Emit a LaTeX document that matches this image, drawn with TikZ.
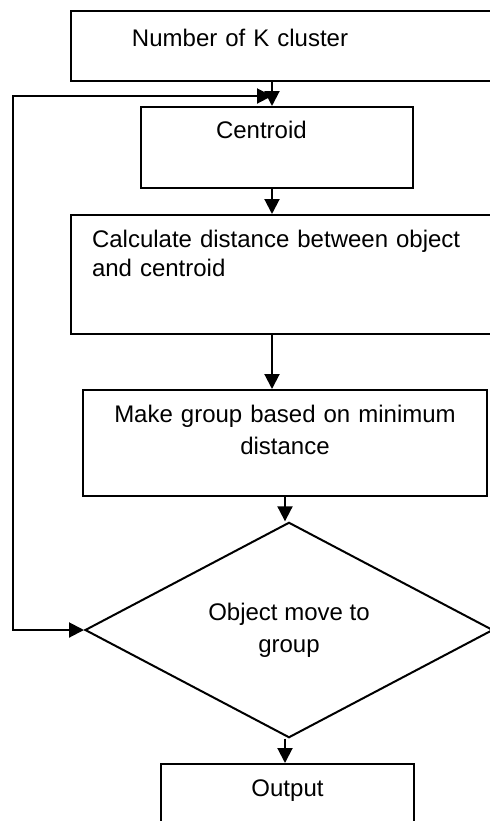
\documentclass[tikz,border=0pt]{standalone}
\usepackage{fontspec}
\setmainfont{Liberation Sans}
\usepackage{tikz}
\usetikzlibrary{arrows.meta,positioning,shapes.geometric}
\tikzset{
  pbox/.style={draw=black,fill=white,line width=1pt,anchor=north west,inner ysep=0pt,font=\fontsize{12}{14.2}\selectfont},
  dbox/.style={diamond,draw=black,fill=white,line width=1pt,inner sep=0pt,align=center,font=\fontsize{12}{15.8}\selectfont},
  arr/.style={-{Triangle[length=7.5pt,width=7.5pt]},line width=1pt},
  darr/.style={{Triangle[length=7.5pt,width=7.5pt]}-{Triangle[length=7.5pt,width=7.5pt]},line width=1pt},
}
\begin{document}
\begin{tikzpicture}[x=0.5pt,y=-0.5pt]
    \useasboundingbox (0,0) rectangle (490,821);
    \clip (0,0) rectangle (490,821);
    \node[pbox,inner xsep=30.5pt,text width=164pt,align=left,text height=17.5pt,text depth=17.5pt] (kbox) at (70,10) {Number of K cluster};
    \node[pbox,inner xsep=37.5pt,text width=61pt,align=left,text height=15.5pt,text depth=25pt] (cent) at (140,106) {Centroid};
    \node[pbox,inner xsep=10.5pt,text width=204pt,align=left,text height=16.35pt,text depth=43.15pt] (dist) at (70,214) {Calculate distance between object\\and centroid};
    \node[pbox,inner xsep=0pt,text width=202pt,align=center,text height=16.15pt,text depth=36.85pt,font=\fontsize{12}{16.15}\selectfont] (grp) at (82,389) {Make group based on minimum\\distance};
    \node[dbox,minimum width=204pt,minimum height=78.5pt] (move) at (289,630) {Object move to\\group};
    \node[pbox,inner xsep=0pt,text width=126.5pt,align=center,text height=16pt,text depth=24.5pt] (outp) at (160,763) {Output};
    \coordinate (join) at (272,96);
    \coordinate (loop) at (13,96);
    \draw[arr] (kbox.south -| join) -- (cent.north -| join);
    \draw[arr] (cent.south -| join) -- (dist.north -| join);
    \draw[arr] (dist.south -| join) -- (grp.north -| join);
    \draw[arr] (grp.south) -- (grp.south |- move.north);
    \draw[arr] (move.south -| grp.south) -- (outp.north -| grp.south);
    % loop back from the test to the centroid step
    \draw[darr] (move.west) -| (loop) -- (join);
\end{tikzpicture}
\end{document}
